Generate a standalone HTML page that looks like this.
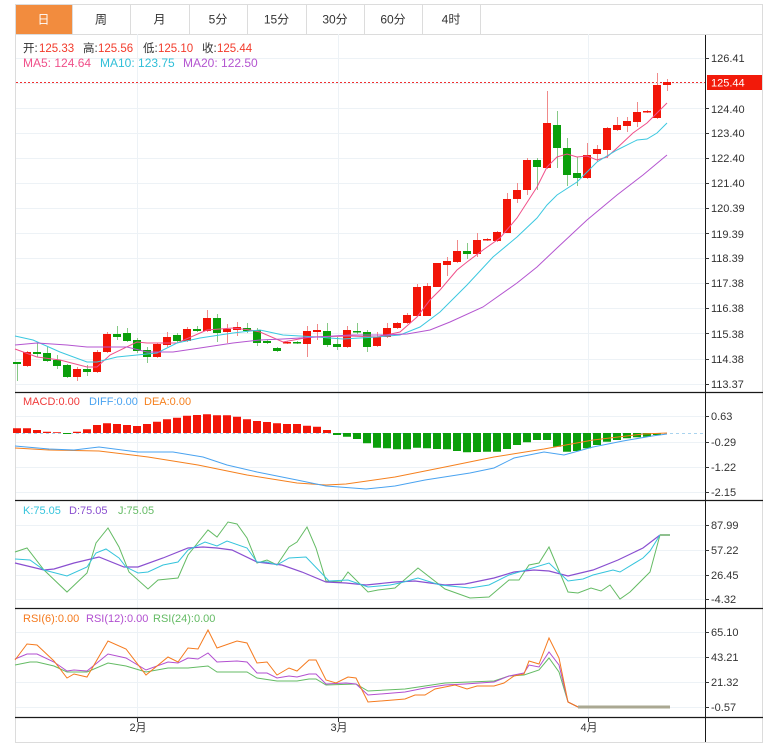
<!DOCTYPE html>
<html><head><meta charset="utf-8"><style>
html,body{margin:0;padding:0;background:#fff;}
svg{display:block;font-family:"Liberation Sans","Noto Sans CJK SC",sans-serif;}
</style></head><body>
<svg width="771" height="751" viewBox="0 0 771 751" xmlns="http://www.w3.org/2000/svg">
<!-- tabs -->
<rect x="15.5" y="4.5" width="747" height="30" fill="#fff" stroke="#dcdcdc"/>
<rect x="16" y="5" width="56" height="29" fill="#f28c3e"/>
<g stroke="#dcdcdc"><line x1="72.5" y1="4" x2="72.5" y2="34"/><line x1="130.5" y1="4" x2="130.5" y2="34"/><line x1="189.5" y1="4" x2="189.5" y2="34"/><line x1="247.5" y1="4" x2="247.5" y2="34"/><line x1="306.5" y1="4" x2="306.5" y2="34"/><line x1="364.5" y1="4" x2="364.5" y2="34"/><line x1="422.5" y1="4" x2="422.5" y2="34"/><line x1="480.5" y1="4" x2="480.5" y2="34"/></g>
<g font-size="12" text-anchor="middle" fill="#333">
<text x="43.5" y="23.5" fill="#fff">日</text><text x="101" y="23.5">周</text><text x="159.5" y="23.5">月</text><text x="218" y="23.5">5分</text><text x="276.5" y="23.5">15分</text><text x="335" y="23.5">30分</text><text x="393" y="23.5">60分</text><text x="451" y="23.5">4时</text>
</g>
<!-- outer box -->
<line x1="15.5" y1="34" x2="15.5" y2="742" stroke="#dcdcdc"/>
<line x1="762.5" y1="34" x2="762.5" y2="742" stroke="#dcdcdc"/>
<line x1="15" y1="742.5" x2="763" y2="742.5" stroke="#dcdcdc"/>
<!-- grid -->
<g stroke="#edf2f6" stroke-width="1">
<line x1="16" x2="705" y1="58.5" y2="58.5"/><line x1="16" x2="705" y1="83.5" y2="83.5"/><line x1="16" x2="705" y1="108.5" y2="108.5"/><line x1="16" x2="705" y1="133.5" y2="133.5"/><line x1="16" x2="705" y1="158.5" y2="158.5"/><line x1="16" x2="705" y1="183.5" y2="183.5"/><line x1="16" x2="705" y1="208.5" y2="208.5"/><line x1="16" x2="705" y1="233.5" y2="233.5"/><line x1="16" x2="705" y1="258.5" y2="258.5"/><line x1="16" x2="705" y1="283.5" y2="283.5"/><line x1="16" x2="705" y1="308.5" y2="308.5"/><line x1="16" x2="705" y1="333.5" y2="333.5"/><line x1="16" x2="705" y1="359.5" y2="359.5"/><line x1="16" x2="705" y1="384.5" y2="384.5"/>
<line x1="16" x2="705" y1="416.5" y2="416.5"/><line x1="16" x2="705" y1="442.5" y2="442.5"/><line x1="16" x2="705" y1="467.5" y2="467.5"/><line x1="16" x2="705" y1="492.5" y2="492.5"/>
<line x1="16" x2="705" y1="525.5" y2="525.5"/><line x1="16" x2="705" y1="550.5" y2="550.5"/><line x1="16" x2="705" y1="575.5" y2="575.5"/><line x1="16" x2="705" y1="599.5" y2="599.5"/>
<line x1="16" x2="705" y1="632.5" y2="632.5"/><line x1="16" x2="705" y1="657.5" y2="657.5"/><line x1="16" x2="705" y1="682.5" y2="682.5"/><line x1="16" x2="705" y1="707.5" y2="707.5"/>
<line x1="137.5" x2="137.5" y1="34" y2="717"/><line x1="338.5" x2="338.5" y1="34" y2="717"/><line x1="588.5" x2="588.5" y1="34" y2="717"/>
</g>
<!-- header text -->
<g font-size="11.5">
<text x="23" y="52" fill="#333">开:</text><text x="39" y="52" fill="#f23a2a">125.33</text>
<text x="83" y="52" fill="#333">高:</text><text x="98" y="52" fill="#f23a2a">125.56</text>
<text x="143" y="52" fill="#333">低:</text><text x="158" y="52" fill="#f23a2a">125.10</text>
<text x="202" y="52" fill="#333">收:</text><text x="217" y="52" fill="#f23a2a">125.44</text>
<text x="23" y="67" fill="#f0508a" font-size="12">MA5: 124.64</text>
<text x="100" y="67" fill="#30bfd8" font-size="12">MA10: 123.75</text>
<text x="183" y="67" fill="#b455d0" font-size="12">MA20: 122.50</text>
</g>
<!-- current price dotted -->
<line x1="16" x2="705" y1="82.5" y2="82.5" stroke="#f03030" stroke-dasharray="2,2"/>
<!-- candles wicks -->
<path fill="none" stroke="#f08a8a" stroke-width="1" d="M27.5 351V367M77.5 367V381M97.5 350V373M107.5 332V353M157.5 343V358M167.5 332V347M187.5 327V342M207.5 310V332M227.5 324V343M237.5 322V336M287.5 341V344M307.5 326V357M317.5 324V340M347.5 326V348M377.5 332V347M387.5 323V338M397.5 322V329M407.5 313V324M417.5 284V316M427.5 283V316M437.5 263V287M447.5 257V276M457.5 240V263M477.5 233V257M487.5 238V241M497.5 231V242M507.5 193V233M517.5 183V203M527.5 158V195M547.5 91V169M587.5 143V179M597.5 145V162M607.5 127V158M617.5 117V131M627.5 117V132M637.5 102V127M647.5 110V113M657.5 73V119M667.5 79V91"/>
<path fill="none" stroke="#86c986" stroke-width="1" d="M17.5 362V381M37.5 342V357M47.5 347V362M57.5 355V369M67.5 364V378M87.5 365V376M117.5 326V340M127.5 328V342M137.5 338V353M147.5 347V363M177.5 333V343M197.5 326V332M217.5 314V342M247.5 323V333M257.5 328V346M267.5 340V344M277.5 347V352M297.5 341V344M327.5 323V347M337.5 337V350M357.5 323V334M367.5 330V352M467.5 243V259M537.5 158V190M557.5 111V168M567.5 138V186M577.5 157V186"/>
<!-- candle bodies -->
<path fill="#f21508" d="M23 352h8v14h-8zM73 369h8v8h-8zM93 352h8v20h-8zM103 334h8v18h-8zM153 344h8v13h-8zM163 337h8v8h-8zM183 329h8v12h-8zM203 318h8v13h-8zM223 329h8v3h-8zM233 327h8v3h-8zM283 342h8v1.5h-8zM303 331h8v13h-8zM313 330h8v2h-8zM343 330h8v17h-8zM373 337h8v9h-8zM383 328h8v9h-8zM393 323h8v5h-8zM403 315h8v8h-8zM413 287h8v29h-8zM423 286h8v30h-8zM433 263h8v24h-8zM443 261h8v4h-8zM453 251h8v11h-8zM473 240h8v14h-8zM483 239h8v1.5h-8zM493 232h8v9h-8zM503 199h8v34h-8zM513 190h8v9h-8zM523 160h8v30h-8zM543 123h8v45h-8zM583 155h8v23h-8zM593 149h8v5h-8zM603 128h8v22h-8zM613 125h8v5h-8zM623 121h8v5h-8zM633 112h8v10h-8zM643 111h8v1.5h-8zM653 85h8v33h-8zM663 82h8v3h-8z"/>
<path fill="#0b9f0b" d="M13 362h8v2h-8zM33 352h8v2h-8zM43 353h8v8h-8zM53 360h8v6h-8zM63 365h8v12h-8zM83 369h8v3h-8zM113 334h8v3h-8zM123 333h8v8h-8zM133 340h8v11h-8zM143 350h8v7h-8zM173 335h8v6h-8zM193 329h8v2h-8zM213 318h8v15h-8zM243 328h8v3h-8zM253 330h8v13h-8zM263 341h8v2h-8zM273 348h8v3h-8zM293 342h8v1.5h-8zM323 331h8v14h-8zM333 344h8v3h-8zM353 331h8v1.5h-8zM363 332h8v15h-8zM463 251h8v3h-8zM533 160h8v7h-8zM553 125h8v23h-8zM563 148h8v27h-8zM573 173h8v5h-8z"/>
<!-- MAs -->
<polyline fill="none" stroke="#f0508a" stroke-width="1" points="15,349 37,357 60,360 87,367 97,367 110,355 137,342 147,343 177,343 207,330 233,328 250,330 260,332 283,342 310,337 350,336 377,337 400,332 417,317 430,300 440,290 457,270 467,262 483,250 500,238 517,218 537,187 547,167 557,157 567,154 577,157 587,156 597,160 607,157 617,148 633,133 647,123 667,103"/>
<polyline fill="none" stroke="#3cc8e0" stroke-width="1" points="15,336 33,340 60,352 87,362 97,362 117,357 137,355 157,353 177,343 200,338 233,333 260,330 283,335 317,337 343,339 377,337 400,335 420,327 440,312 467,285 493,257 517,237 537,218 547,205 557,195 577,182 597,162 617,150 637,140 647,139 657,133 667,123"/>
<polyline fill="none" stroke="#b455d0" stroke-width="1" points="15,345 37,343 67,345 87,347 127,347 147,352 173,352 200,348 233,343 260,340 283,339 317,337 350,335 383,335 407,334 430,330 450,322 483,307 517,283 537,267 557,248 587,220 617,195 643,175 667,155"/>
<!-- MACD panel -->
<line x1="16" x2="705" y1="433.5" y2="433.5" stroke="#a9d3ee" stroke-dasharray="3,3"/>
<path fill="#f21508" d="M13 428.3h8V433h-8zM23 428.3h8V433h-8zM33 430h8V433h-8zM43 431.7h8V433h-8zM53 432.3h8V433h-8zM73 431.7h8V433h-8zM83 429.3h8V433h-8zM93 425h8V433h-8zM103 423.3h8V433h-8zM113 424h8V433h-8zM123 425h8V433h-8zM133 426h8V433h-8zM143 424h8V433h-8zM153 421.7h8V433h-8zM163 419.3h8V433h-8zM173 417.7h8V433h-8zM183 415.7h8V433h-8zM193 415h8V433h-8zM203 414.3h8V433h-8zM213 415.3h8V433h-8zM223 415.3h8V433h-8zM233 416.7h8V433h-8zM243 419.3h8V433h-8zM253 421h8V433h-8zM263 422h8V433h-8zM273 423.3h8V433h-8zM283 424h8V433h-8zM293 424h8V433h-8zM303 425.7h8V433h-8zM313 426.7h8V433h-8zM323 430h8V433h-8z"/>
<path fill="#0b9f0b" d="M63 433h8v1h-8zM333 433h8v2h-8zM343 433h8v3.7h-8zM353 433h8v6h-8zM363 433h8v10.3h-8zM373 433h8v14.7h-8zM383 433h8v15.3h-8zM393 433h8v16.3h-8zM403 433h8v16.3h-8zM413 433h8v14.7h-8zM423 433h8v15.3h-8zM433 433h8v16h-8zM443 433h8v16.3h-8zM453 433h8v18h-8zM463 433h8v19.3h-8zM473 433h8v19h-8zM483 433h8v18.7h-8zM493 433h8v18.7h-8zM503 433h8v16h-8zM513 433h8v12h-8zM523 433h8v9.3h-8zM533 433h8v7h-8zM543 433h8v7h-8zM553 433h8v13.7h-8zM563 433h8v18.7h-8zM573 433h8v18h-8zM583 433h8v15.3h-8zM593 433h8v12h-8zM603 433h8v8.7h-8zM613 433h8v7h-8zM623 433h8v5.3h-8zM633 433h8v4.3h-8zM643 433h8v3.7h-8zM653 433h8v2h-8z"/>
<polyline fill="none" stroke="#f5801e" stroke-width="1" points="15,448 49,450 99,451 148,457 198,465 247,475 297,483 326,485 346,484 395,477 445,467 494,457 544,449 593,440 643,434 667,433"/>
<polyline fill="none" stroke="#4aa3f0" stroke-width="1" points="15,446 49,449 74,450 99,447 138,452 173,452 203,457 227,465 257,472 297,480 326,486 366,489 395,486 425,480 470,473 494,468 514,458 544,452 564,455 593,447 623,441 652,436 667,434"/>
<g font-size="11">
<text x="23" y="405" fill="#f03a3a">MACD:0.00</text><text x="89" y="405" fill="#4aa3f0">DIFF:0.00</text><text x="144" y="405" fill="#f5801e">DEA:0.00</text>
</g>
<!-- KDJ panel -->
<polyline fill="none" stroke="#64bb64" stroke-width="1" points="15,552 27,548 44,570 67,592 87,573 96,543 108,528 119,547 129,572 148,589 158,580 178,578 188,555 208,530 217,537 228,522 237,524 247,538 257,563 267,560 277,565 289,547 297,542 307,527 316,548 326,581 341,582 348,572 368,592 378,590 395,588 418,568 445,589 470,598 489,597 509,580 519,580 529,565 539,563 549,547 568,592 578,593 591,588 601,591 610,585 620,599 630,592 650,572 660,535"/>
<polyline fill="none" stroke="#8a4fd0" stroke-width="1.2" points="15,563 44,570 54,569 74,563 99,557 124,567 138,567 163,558 188,548 203,547 217,548 232,550 257,562 282,565 302,572 326,582 346,583 366,585 395,582 415,581 445,585 465,584 494,578 514,572 534,570 549,571 568,576 593,570 618,560 643,548 660,535"/>
<polyline fill="none" stroke="#35c4dc" stroke-width="1" points="15,559 30,560 44,570 67,576 87,567 96,553 106,549 119,558 126,567 138,573 148,572 163,565 178,562 188,550 205,542 217,546 227,541 247,548 257,562 267,562 277,565 289,558 306,557 329,581 348,580 368,587 390,585 400,583 418,578 440,585 470,588 489,585 509,575 529,569 549,563 568,581 583,579 593,575 613,570 620,572 643,558 650,551 660,535"/>
<line x1="660" x2="670" y1="535" y2="535" stroke="#8fc08f" stroke-width="2"/>
<g font-size="11">
<text x="23" y="514" fill="#35c4dc">K:75.05</text><text x="69" y="514" fill="#8a4fd0">D:75.05</text><text x="118" y="514" fill="#64bb64">J:75.05</text>
</g>
<!-- RSI panel -->
<polyline fill="none" stroke="#64bb64" stroke-width="1" points="15,665 30,662 37,662 54,666 67,672 87,672 108,663 126,666 146,672 168,668 188,668 208,666 217,672 247,672 257,678 277,681 297,681 309,679 316,679 326,685 356,684 368,691 405,689 425,686 445,683 494,681 509,676 524,675 539,670 549,658 559,672 568,702 578,707"/>
<polyline fill="none" stroke="#b24fd0" stroke-width="1" points="15,659 27,654 37,654 54,662 67,671 74,670 87,671 108,654 126,658 146,670 168,662 178,663 188,658 198,659 208,653 217,662 237,661 247,662 257,673 267,673 277,678 289,676 297,677 309,674 316,674 326,684 346,683 356,684 368,695 405,692 425,688 445,685 465,684 494,682 509,676 524,673 529,665 539,667 549,652 559,665 568,702 578,707"/>
<polyline fill="none" stroke="#f57a1e" stroke-width="1" points="15,660 27,644 37,645 54,661 67,678 74,674 87,677 108,641 126,649 146,675 168,657 178,662 188,648 198,649 208,630 217,648 237,641 247,643 257,663 267,662 277,675 289,668 297,671 309,660 316,660 326,680 336,683 348,677 356,678 368,702 405,699 415,695 425,695 435,689 455,685 467,689 477,686 494,686 504,683 514,676 524,674 529,661 539,664 549,638 559,658 568,702 578,707"/>
<line x1="578" x2="670" y1="707" y2="707" stroke="#aaa892" stroke-width="3"/>
<g font-size="11">
<text x="23" y="622" fill="#f57a1e">RSI(6):0.00</text><text x="86" y="622" fill="#b24fd0">RSI(12):0.00</text><text x="153" y="622" fill="#64bb64">RSI(24):0.00</text>
</g>
<!-- separators & axis -->
<g stroke="#1a1a1a" stroke-width="1.3">
<line x1="15" x2="763" y1="392.5" y2="392.5"/><line x1="15" x2="763" y1="500.5" y2="500.5"/><line x1="15" x2="763" y1="608.5" y2="608.5"/><line x1="15" x2="763" y1="717.5" y2="717.5"/>
</g>
<line x1="705.5" x2="705.5" y1="35" y2="742" stroke="#1a1a1a" stroke-width="1"/>
<g stroke="#333" stroke-width="1">
<path d="M705 58.5h4M705 108.5h4M705 133.5h4M705 158.5h4M705 183.5h4M705 208.5h4M705 233.5h4M705 258.5h4M705 283.5h4M705 308.5h4M705 333.5h4M705 359.5h4M705 384.5h4M705 416.5h4M705 442.5h4M705 467.5h4M705 492.5h4M705 525.5h4M705 550.5h4M705 575.5h4M705 599.5h4M705 632.5h4M705 657.5h4M705 682.5h4M705 707.5h4M137.5 717v5M338.5 717v5M588.5 717v5"/>
</g>
<rect x="707" y="75" width="55" height="15" fill="#f21a0a"/>
<g font-size="11" fill="#333">
<text x="711" y="62">126.41</text>
<text x="711" y="86.5" fill="#fff">125.44</text>
<text x="711" y="113">124.40</text><text x="711" y="137">123.40</text><text x="711" y="162">122.40</text><text x="711" y="187">121.40</text><text x="711" y="212">120.39</text><text x="711" y="238">119.39</text><text x="711" y="262">118.39</text><text x="711" y="287">117.38</text><text x="711" y="312">116.38</text><text x="711" y="338">115.38</text><text x="711" y="363">114.38</text><text x="711" y="388">113.37</text>
<text x="711" y="420">0.63</text><text x="711" y="446">-0.29</text><text x="711" y="471">-1.22</text><text x="711" y="496">-2.15</text>
<text x="711" y="529">87.99</text><text x="711" y="554">57.22</text><text x="711" y="579">26.45</text><text x="711" y="603">-4.32</text>
<text x="711" y="636">65.10</text><text x="711" y="661">43.21</text><text x="711" y="686">21.32</text><text x="711" y="711">-0.57</text>
</g>
<g font-size="11" fill="#333" text-anchor="middle">
<text x="138" y="731">2月</text><text x="339" y="731">3月</text><text x="589" y="731">4月</text>
</g>
</svg>
</body></html>
